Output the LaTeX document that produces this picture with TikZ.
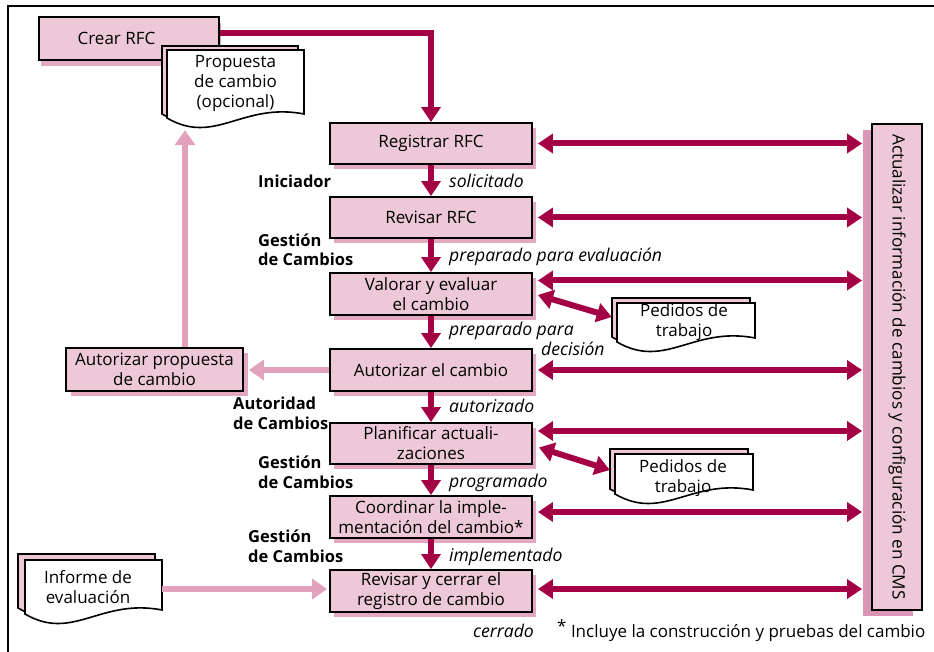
\documentclass[tikz,border=0pt]{standalone}
\usepackage{fontspec}
\setmainfont{Open Sans}
\usepackage{graphicx}
\usetikzlibrary{arrows.meta,shadows,calc}
\definecolor{boxfill}{RGB}{237,201,216}
\definecolor{shadowpink}{RGB}{226,168,192}
\definecolor{cmsshadow}{RGB}{218,150,180}
\definecolor{darkarrow}{RGB}{163,0,70}
\definecolor{lightarrow}{RGB}{226,162,188}
\definecolor{sheetpink}{RGB}{237,201,216}
\newcommand\basefont{\fontsize{17}{20}\selectfont}
\newcommand\labelfont{\fontsize{16.5}{20}\selectfont}
\newcommand\statefont{\fontsize{17.6}{20}\selectfont}
\newcommand\docsheet[5]{%
  \filldraw[docline, fill=#5] (#1,-#2) -- (#3,-#2) -- (#3,-#4+2)
    .. controls ({#1+0.55*(#3-#1)},{-#4+14}) and ({#1+0.35*(#3-#1)},{-#4-30}) .. (#1,-#4-2) -- cycle;}
\tikzset{
  docline/.style={draw=black, line width=1.6pt},
  boxbase/.style={draw=black, line width=1.9pt, fill=boxfill, align=center, inner sep=2pt},
  stepbox/.style={boxbase, minimum width=202pt, minimum height=41pt,
    drop shadow={shadow xshift=4pt, shadow yshift=-5pt, fill=shadowpink, opacity=1}},
  doctext/.style={align=center, inner sep=0pt},
  lbl/.style={font=\labelfont\bfseries, anchor=base west, inner sep=0pt, align=left},
  st/.style={font=\statefont\itshape, anchor=base west, inner sep=0pt, align=left},
  darr/.style={draw=darkarrow, line width=6pt, -{Triangle[width=19pt,length=15pt]}},
  dbl/.style={draw=darkarrow, line width=6pt, {Triangle[width=19pt,length=15pt]}-{Triangle[width=19pt,length=15pt]}},
  larr/.style={draw=lightarrow, line width=6pt, -{Triangle[width=20pt,length=15pt]}}
}
\begin{document}
\begin{tikzpicture}[x=1pt, y=1pt, font=\basefont]
\useasboundingbox (0,0) rectangle (934,-652);
% frame
\draw[line width=2.5pt] (8,-652) -- (8,-6) -- (934,-6);

% Crear RFC
\node[boxbase, minimum width=180pt, minimum height=43pt,
  drop shadow={shadow xshift=2pt, shadow yshift=-6pt, fill=shadowpink, opacity=1}]
  (crear) at (129,-38.5) {Crear RFC\hspace*{25pt}};

% Propuesta document
\docsheet{162}{46}{298}{112}{sheetpink}
\docsheet{167}{50}{304}{116}{white}
\node[doctext, minimum width=137pt, minimum height=66pt] (pd) at (235.5,-83) {Propuesta\\de cambio\\(opcional)};

% Pedidos de trabajo 1
\docsheet{612}{298}{750}{335}{sheetpink}
\docsheet{617}{303}{755}{340}{white}
\node[doctext, minimum width=130pt, minimum height=37pt] (pw1) at (684,-322.5) {Pedidos de\\trabajo};

% Pedidos de trabajo 2
\docsheet{610}{449}{748}{487}{sheetpink}
\docsheet{615}{454}{753}{492}{white}
\node[doctext, minimum width=130pt, minimum height=37pt] (pw2) at (683,-478) {Pedidos de\\trabajo};

% Informe de evaluacion
\docsheet{18}{554}{155}{606}{sheetpink}
\docsheet{25}{560}{162}{612}{white}
\node[doctext, minimum width=125pt, minimum height=45pt] (inf) at (88,-587) {Informe de\\evaluación};

% main process boxes
\node[stepbox] (reg) at (431,-143.5) {Registrar RFC};
\node[stepbox] (rev) at (431,-217.5) {Revisar RFC};
\node[stepbox, minimum height=42pt] (val) at (431,-294) {Valorar y evaluar\\el cambio};
\node[stepbox, minimum height=42pt] (aut) at (431,-370) {Autorizar el cambio};
\node[stepbox] (pla) at (431,-443.5) {Planificar actuali-\\zaciones};
\node[stepbox, minimum height=42pt] (coo) at (431,-517) {Coordinar la imple-\\mentación del cambio*};
\node[stepbox, minimum height=42pt] (cer) at (431,-591) {Revisar y cerrar el\\registro de cambio};

% Autorizar propuesta
\node[boxbase, minimum width=177pt, minimum height=43pt,
  drop shadow={shadow xshift=5pt, shadow yshift=-5pt, fill=shadowpink, opacity=1}]
  (ap) at (154.5,-369.5) {Autorizar propuesta\\de cambio};

% CMS box
\node[boxbase, minimum width=50pt, minimum height=486pt, inner sep=0pt,
  drop shadow={shadow xshift=-9pt, shadow yshift=-6pt, fill=cmsshadow, opacity=1}]
  (cms) at (897,-367) {\rotatebox{-90}{\fontsize{17.1}{20}\selectfont Actualizar información de cambios y configuración en CMS}};

% dark arrows
\draw[darr] ([yshift=5.5pt]crear.east) -| (reg.north);
\draw[darr] (reg.south) -- (rev.north);
\draw[darr] (rev.south) -- (val.north);
\draw[darr] (val.south) -- (aut.north);
\draw[darr] (aut.south) -- (pla.north);
\draw[darr] (pla.south) -- (coo.north);
\draw[darr] (coo.south) -- (cer.north);

% double arrows to CMS
\draw[dbl] ($(reg.east)+(5,0)$) -- ($(reg.east -| cms.west)+(-9,0)$);
\draw[dbl] ($(rev.east)+(5,0)$) -- ($(rev.east -| cms.west)+(-9,0)$);
\draw[dbl] ($(val.east)+(5,13.5)$) -- ($(val.east -| cms.west)+(-9,13.5)$);
\draw[dbl] ($(aut.east)+(5,0)$) -- ($(aut.east -| cms.west)+(-9,0)$);
\draw[dbl] ($(pla.east)+(5,12.5)$) -- ($(pla.east -| cms.west)+(-9,12.5)$);
\draw[dbl] ($(coo.east)+(5,5)$) -- ($(coo.east -| cms.west)+(-9,5)$);
\draw[dbl] ($(cer.east)+(5,2)$) -- ($(cer.east -| cms.west)+(-9,2)$);

% diagonal double arrows to work orders
\draw[dbl] ($(val.east)+(5,-1)$) -- ($(pw1.west)+(-7,5.5)$);
\draw[dbl] ($(pla.east)+(6,-4)$) -- ($(pw2.west)+(-8,8)$);

% light arrows
\draw[larr] (aut.west) -- ($(ap.east)+(5,-0.5)$);
\coordinate (apTop) at ($(ap.north)+(30.5,0)$);
\coordinate (pdBot) at ($(pd.south)+(0,-14)$);
\draw[larr] (apTop) -- (apTop |- pdBot);
\draw[larr] ($(inf.east)+(11.5,-2)$) -- ($(cer.west)+(-2,2)$);

% role labels (anchor = baseline of last line)
\node[lbl] (l1) at (258,-188) {Iniciador};
\node[lbl] (l2) at (258,-266) {Gestión\\de Cambios};
\node[lbl] (l3) at (233,-429) {Autoridad\\de Cambios};
\node[lbl] (l4) at (258,-488) {Gestión\\de Cambios};
\node[lbl] (l5) at (248,-562) {Gestión\\de Cambios};

% status labels
\node[st] (s1) at (449,-188) {solicitado};
\node[st] (s2) at (449,-262) {preparado para evaluación};
\node[st] (s3) at (449,-355) {preparado para\\\hspace*{92pt}decisión};
\node[st] (s4) at (449,-412) {autorizado};
\node[st] (s5) at (449,-487) {programado};
\node[st] (s6) at (449,-561) {implementado};
\node[st] (s7) at (473,-637) {cerrado};
\node[anchor=base west, inner sep=0pt] (note) at (557,-637) {\raisebox{5pt}{*} Incluye la construcción y pruebas del cambio};
\end{tikzpicture}
\end{document}
